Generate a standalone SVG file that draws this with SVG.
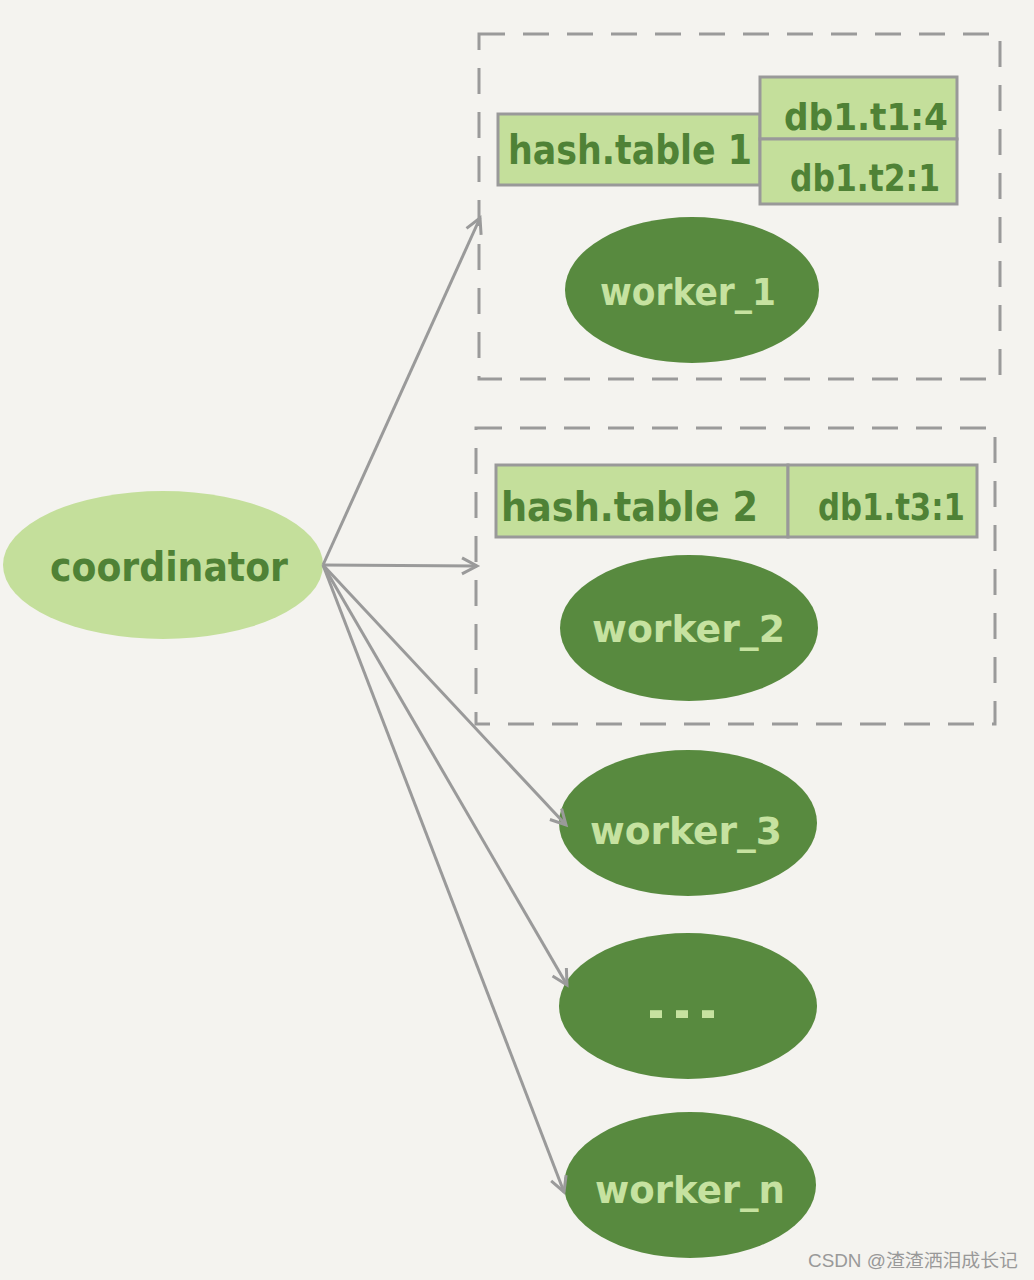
<svg xmlns="http://www.w3.org/2000/svg" width="1034" height="1280" viewBox="0 0 1034 1280">
  <style>
    .bg { fill: #f4f3ef; }
    .dash { fill: none; stroke: #9a9a9a; stroke-width: 3; stroke-dasharray: 26 18; }
    .cell { fill: #c4df9b; stroke: #999; stroke-width: 3; }
    .worker { fill: #588a3f; }
    .coord { fill: #c4df9b; }
    .dark { fill: #4f8236; font-family: "DejaVu Sans", sans-serif; font-weight: bold; }
    .light { fill: #c6e2a0; font-family: "DejaVu Sans", sans-serif; font-weight: bold; }
    .conn { fill: none; stroke: #9a9a9a; stroke-width: 3; }
    .wm { fill: #999; font-family: "Liberation Sans", "Noto Sans CJK SC", sans-serif; font-size: 18px; }
  </style>
  <defs>
    <marker id="arr" markerUnits="userSpaceOnUse" markerWidth="30" markerHeight="30" refX="0" refY="0" viewBox="-20 -15 30 30" orient="auto">
      <path d="M-15,-8 L0,0 L-15,8" fill="none" stroke="#9a9a9a" stroke-width="3"/>
    </marker>
  </defs>
  <rect class="bg" x="0" y="0" width="1034" height="1280"/>

  <g id="group1">
    <rect class="dash" x="479" y="34" width="521" height="345"/>
  </g>
  <g id="group2">
    <rect class="dash" x="476" y="428" width="519" height="296"/>
  </g>

  <g id="hashtable1">
    <rect class="cell" x="498" y="114" width="262" height="71"/>
    <rect class="cell" x="760" y="77" width="197" height="62"/>
    <rect class="cell" x="760" y="139" width="197" height="65"/>
    <text class="dark" x="508" y="164" font-size="40" textLength="244" lengthAdjust="spacingAndGlyphs">hash.table 1</text>
    <text class="dark" x="784" y="130" font-size="38" textLength="164" lengthAdjust="spacingAndGlyphs">db1.t1:4</text>
    <text class="dark" x="790" y="191" font-size="38" textLength="150" lengthAdjust="spacingAndGlyphs">db1.t2:1</text>
  </g>

  <g id="hashtable2">
    <rect class="cell" x="496" y="465" width="292" height="72"/>
    <rect class="cell" x="788" y="465" width="189" height="72"/>
    <text class="dark" x="501" y="521" font-size="40" textLength="257" lengthAdjust="spacingAndGlyphs">hash.table 2</text>
    <text class="dark" x="818" y="520" font-size="38" textLength="147" lengthAdjust="spacingAndGlyphs">db1.t3:1</text>
  </g>

  <g id="coordinator">
    <ellipse class="coord" cx="163" cy="565" rx="160" ry="74"/>
    <text class="dark" x="50" y="581" font-size="40" textLength="238" lengthAdjust="spacingAndGlyphs">coordinator</text>
  </g>

  <g id="worker_1">
    <ellipse class="worker" cx="692" cy="290" rx="127" ry="73"/>
    <text class="light" x="600" y="305" font-size="38" textLength="176" lengthAdjust="spacingAndGlyphs">worker_1</text>
  </g>
  <g id="worker_2">
    <ellipse class="worker" cx="689" cy="628" rx="129" ry="73"/>
    <text class="light" x="592" y="642" font-size="38" textLength="193" lengthAdjust="spacingAndGlyphs">worker_2</text>
  </g>
  <g id="worker_3">
    <ellipse class="worker" cx="688" cy="823" rx="129" ry="73"/>
    <text class="light" x="590" y="844" font-size="38" textLength="192" lengthAdjust="spacingAndGlyphs">worker_3</text>
  </g>
  <g id="worker_dots">
    <ellipse class="worker" cx="688" cy="1006" rx="129" ry="73"/>
    <text class="light" x="643" y="1018" font-size="40" textLength="78" lengthAdjust="spacingAndGlyphs">...</text>
  </g>
  <g id="worker_n">
    <ellipse class="worker" cx="690" cy="1185" rx="126" ry="73"/>
    <text class="light" x="595" y="1203" font-size="38" textLength="190" lengthAdjust="spacingAndGlyphs">worker_n</text>
  </g>

  <g id="connectors">
    <line class="conn" x1="323" y1="565" x2="480" y2="218" marker-end="url(#arr)"/>
    <line class="conn" x1="323" y1="565" x2="477" y2="566" marker-end="url(#arr)"/>
    <line class="conn" x1="323" y1="565" x2="566" y2="825" marker-end="url(#arr)"/>
    <line class="conn" x1="323" y1="565" x2="567" y2="985" marker-end="url(#arr)"/>
    <line class="conn" x1="323" y1="565" x2="564" y2="1192" marker-end="url(#arr)"/>
  </g>

  <text class="wm" x="808" y="1267" textLength="210" lengthAdjust="spacingAndGlyphs">CSDN @渣渣洒泪成长记</text>
</svg>
